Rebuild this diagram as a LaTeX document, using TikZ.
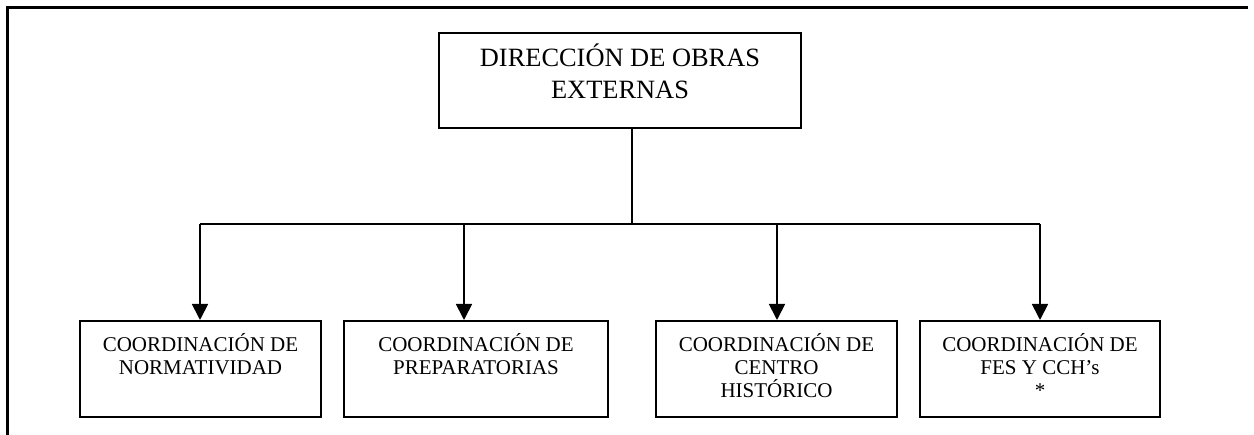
\documentclass[tikz,border=0pt]{standalone}
\usepackage{fontspec}
\setmainfont{Liberation Serif}
\usetikzlibrary{arrows.meta,calc}
\tikzset{
  frame/.style={line width=2.5pt},
  box/.style={draw, line width=2pt, inner sep=0pt},
  conn/.style={line width=1.8pt},
  arr/.style={line width=1.8pt, -{Triangle[length=16pt,width=16pt]}},
  toptxt/.style={align=center, inner sep=0pt, font=\fontsize{26.4pt}{32pt}\selectfont},
  subtxt/.style={align=center, inner sep=0pt, font=\fontsize{21pt}{23pt}\selectfont}
}
\begin{document}
\begin{tikzpicture}[x=1pt,y=-1pt]
\useasboundingbox (0,0) rectangle (1254,435);
% outer frame
\draw[frame] (7.5,435) -- (7.5,7.5) -- (1248,7.5);
% top box
\node[box, minimum width=362pt, minimum height=95pt] (top) at (620,80.5) {};
\node[toptxt, anchor=base] (toptext) at (620,99) {DIRECCIÓN DE OBRAS\\EXTERNAS};
% bottom boxes
\node[box, minimum width=241pt, minimum height=96pt] (b1) at (200.5,369) {};
\node[box, minimum width=264pt, minimum height=96pt] (b2) at (476,369) {};
\node[box, minimum width=241pt, minimum height=96pt] (b3) at (776.5,369) {};
\node[box, minimum width=240pt, minimum height=96pt] (b4) at (1040,369) {};
\node[subtxt, anchor=base] (t1) at (200.5,374.5) {COORDINACIÓN DE\\NORMATIVIDAD};
\node[subtxt, anchor=base] (t2) at (476,374.5) {COORDINACIÓN DE\\PREPARATORIAS};
\node[subtxt, anchor=base] (t3) at (776.5,398) {COORDINACIÓN DE\\CENTRO\\HISTÓRICO};
\node[subtxt, anchor=base] (t4) at (1040,398) {COORDINACIÓN DE\\FES Y CCH’s\\*};
% connectors
\coordinate (bus) at (632,224);
\coordinate (j1) at (200,224);
\coordinate (j2) at (464,224);
\coordinate (j3) at (777,224);
\coordinate (j4) at (1040,224);
\draw[conn] (top.south -| bus) -- (bus);
\draw[conn] (j1) -- (j4);
\draw[arr] (j1) -- (j1 |- b1.north);
\draw[arr] (j2) -- (j2 |- b2.north);
\draw[arr] (j3) -- (j3 |- b3.north);
\draw[arr] (j4) -- (j4 |- b4.north);
\end{tikzpicture}
\end{document}
